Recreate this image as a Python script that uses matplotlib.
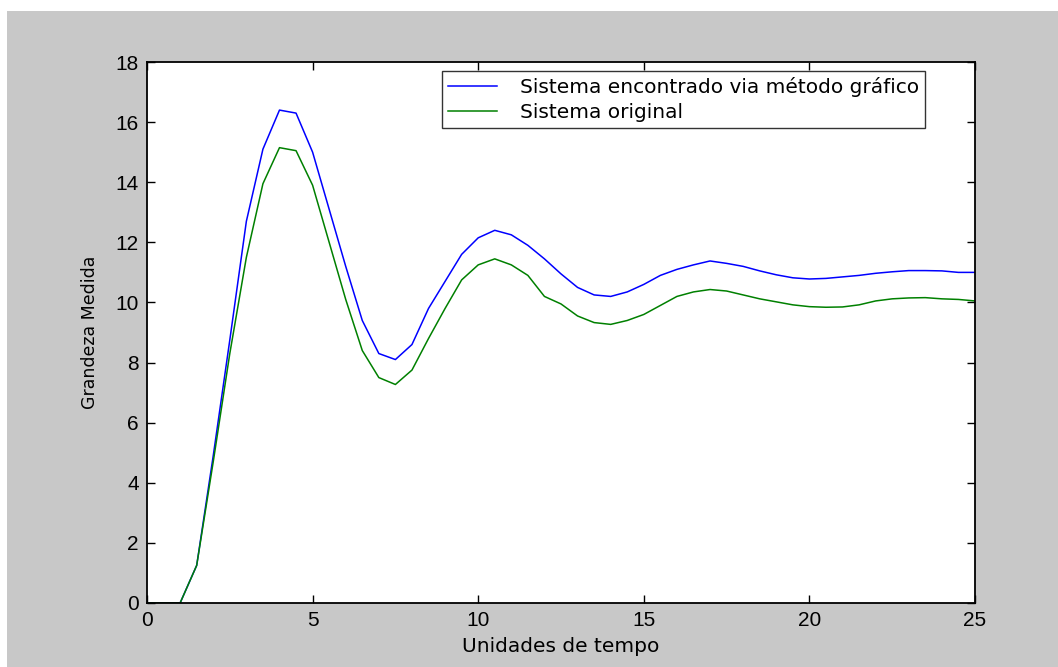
import numpy as np
import matplotlib.pyplot as plt
from matplotlib.patches import Rectangle

# tempo amostrado a cada 0.5
t = np.arange(0, 25.5, 0.5)

sistema_grafico = [
    0, 0, 0, 1.25, 4.9, 8.75, 12.7, 15.1, 16.4, 16.3,
    15.0, 13.1, 11.2, 9.4, 8.3, 8.1, 8.6, 9.8, 10.7, 11.6,
    12.15, 12.4, 12.25, 11.9, 11.45, 10.95, 10.5, 10.25, 10.2, 10.35,
    10.6, 10.9, 11.1, 11.25, 11.38, 11.3, 11.2, 11.05, 10.92, 10.82,
    10.78, 10.8, 10.85, 10.9, 10.97, 11.02, 11.06, 11.06, 11.05, 11.0,
    11.0,
]
sistema_original = [
    0, 0, 0, 1.25, 4.7, 8.3, 11.5, 13.95, 15.15, 15.05,
    13.9, 12.0, 10.1, 8.4, 7.5, 7.27, 7.75, 8.8, 9.8, 10.75,
    11.25, 11.45, 11.25, 10.9, 10.2, 9.95, 9.55, 9.33, 9.27, 9.4,
    9.6, 9.9, 10.2, 10.35, 10.43, 10.38, 10.25, 10.12, 10.02, 9.92,
    9.86, 9.84, 9.85, 9.92, 10.05, 10.12, 10.15, 10.16, 10.12, 10.1,
    10.05,
]

legendas = ["Sistema encontrado via método gráfico", "Sistema original"]

plt.rcParams["font.family"] = ["Liberation Sans", "DejaVu Sans"]

W, H = 1058, 667
fig = plt.figure(figsize=(W / 100, H / 100), dpi=100, facecolor="white")
# fundo cinza da janela
fig.patches.append(Rectangle((7 / W, 0), 1 - 7 / W, 1 - 11 / H,
                             transform=fig.transFigure, facecolor="#c8c8c8",
                             edgecolor="none", zorder=-1))

ax = fig.add_axes([147 / W, (H - 603) / H, (975 - 147) / W, (603 - 62) / H])
ax.set_facecolor("white")

ax.plot(t, sistema_grafico, color="#0000ff", lw=1.1, label=legendas[0])
ax.plot(t, sistema_original, color="#008000", lw=1.1, label=legendas[1])

ax.set_xlim(0, 25)
ax.set_ylim(0, 18)
ax.set_xticks(np.arange(0, 26, 5))
ax.set_yticks(np.arange(0, 19, 2))
ax.tick_params(direction="in", length=6, width=1, top=True, right=True,
               labelsize=15, pad=6, colors="black")
for spine in ax.spines.values():
    spine.set_linewidth(1.3)
    spine.set_edgecolor("black")

ax.set_xlabel("Unidades de tempo", fontsize=14.5, family="DejaVu Sans",
              labelpad=5)
ax.set_ylabel("Grandeza Medida", fontsize=12.5, family="DejaVu Sans",
              labelpad=12)

leg = ax.legend(loc="upper right", bbox_to_anchor=(925 / W, (H - 71) / H),
                bbox_transform=fig.transFigure, frameon=True,
                prop={"family": "DejaVu Sans", "size": 14.5},
                fancybox=False, borderpad=0.3, handlelength=2.4,
                handletextpad=1.15, labelspacing=0.3, borderaxespad=0)
leg.get_frame().set_edgecolor("black")
leg.get_frame().set_linewidth(1.0)

fig.savefig("out.png", dpi=100, facecolor=fig.get_facecolor())
